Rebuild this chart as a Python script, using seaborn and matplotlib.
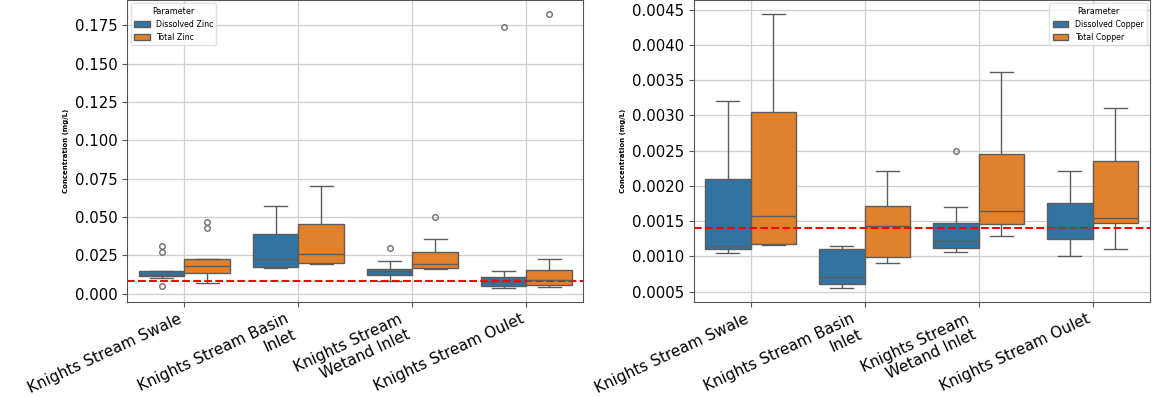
import matplotlib
matplotlib.use("Agg")
import matplotlib.pyplot as plt
import matplotlib.ticker as mticker
import pandas as pd
import seaborn as sns

# Sampling sites (tick labels wrapped onto two lines where long)
sites = [
    "Knights Stream Swale",
    "Knights Stream Basin\nInlet",
    "Knights Stream\nWetand Inlet",
    "Knights Stream Oulet",
]

# Zinc concentrations (mg/L), one list of samples per site
dissolved_zinc = [
    [0.0052, 0.0105, 0.0115, 0.0118, 0.0120, 0.0135, 0.0148, 0.0270, 0.0313],
    [0.0167, 0.0176, 0.0224, 0.0391, 0.0571],
    [0.0083, 0.0110, 0.0124, 0.0135, 0.0145, 0.0155, 0.0163, 0.0211, 0.0300],
    [0.0037, 0.0045, 0.0050, 0.0062, 0.0075, 0.0092, 0.0109, 0.0148, 0.1739],
]
total_zinc = [
    [0.0070, 0.0110, 0.0137, 0.0160, 0.0180, 0.0205, 0.0224, 0.0428, 0.0467],
    [0.0192, 0.0198, 0.0259, 0.0452, 0.0700],
    [0.0163, 0.0164, 0.0165, 0.0180, 0.0195, 0.0230, 0.0270, 0.0354, 0.0498],
    [0.0042, 0.0050, 0.0059, 0.0070, 0.0090, 0.0120, 0.0154, 0.0228, 0.1824],
]

# Copper concentrations (mg/L), one list of samples per site
dissolved_copper = [
    [0.00105, 0.00111, 0.00115, 0.00210, 0.00320],
    [0.00055, 0.000605, 0.00070, 0.00111, 0.00115],
    [0.00106, 0.00109, 0.00112, 0.00118, 0.00122, 0.00135, 0.00148, 0.00170, 0.00250],
    [0.00100, 0.00125, 0.00140, 0.00176, 0.00221],
]
total_copper = [
    [0.00116, 0.00118, 0.00157, 0.00305, 0.00444],
    [0.00090, 0.00099, 0.00143, 0.00171, 0.00221],
    [0.00129, 0.00146, 0.00165, 0.00245, 0.00361],
    [0.00111, 0.00147, 0.00155, 0.00235, 0.00310],
]

# Guideline trigger values (mg/L)
zinc_guideline = 0.008
copper_guideline = 0.0014


def to_long(groups):
    rows = []
    for name, per_site in groups:
        for site, values in zip(sites, per_site):
            for v in values:
                rows.append({"Site": site, "Parameter": name, "Concentration": v})
    return pd.DataFrame(rows)


zinc_df = to_long([("Dissolved Zinc", dissolved_zinc), ("Total Zinc", total_zinc)])
copper_df = to_long([("Dissolved Copper", dissolved_copper), ("Total Copper", total_copper)])

fig = plt.figure(figsize=(11.66, 3.97), dpi=100)
ax_zn = fig.add_axes([0.1093, 0.2400, 0.3911, 0.7592])
ax_cu = fig.add_axes([0.5949, 0.2400, 0.3911, 0.7592])

panels = [
    (ax_zn, zinc_df, zinc_guideline, mticker.MultipleLocator(0.025), "upper left"),
    (ax_cu, copper_df, copper_guideline, mticker.MultipleLocator(0.0005), "upper right"),
]

line_gray = "#5c5c5c"

for ax, df, guide, locator, loc in panels:
    sns.boxplot(data=df, x="Site", y="Concentration", hue="Parameter",
                order=sites, ax=ax, linecolor=line_gray, linewidth=1.0,
                fliersize=4,
                flierprops={"markeredgecolor": "#6e6e6e", "markeredgewidth": 1.0})
    ax.axhline(guide, color="red", linestyle="--", linewidth=1.5)
    ax.grid(True, color="#cfcfcf", linewidth=0.9)
    ax.set_axisbelow(True)
    for spine in ax.spines.values():
        spine.set_edgecolor("#555555")
    ax.yaxis.set_major_locator(locator)
    ax.set_xlabel("")
    ax.set_ylabel("Concentration (mg/L)", fontsize=5, fontweight="bold")
    ax.tick_params(axis="y", labelsize=10.7, color="#555555")
    ax.tick_params(axis="x", labelsize=11.0, color="#555555")
    plt.setp(ax.get_xticklabels(), rotation=25, ha="right")
    leg = ax.legend(title="Parameter", loc=loc, fontsize=5.7, title_fontsize=5.9,
                    borderaxespad=0.4)
    leg.get_frame().set_edgecolor("#d8d8d8")

fig.savefig("out.png", dpi=100)
